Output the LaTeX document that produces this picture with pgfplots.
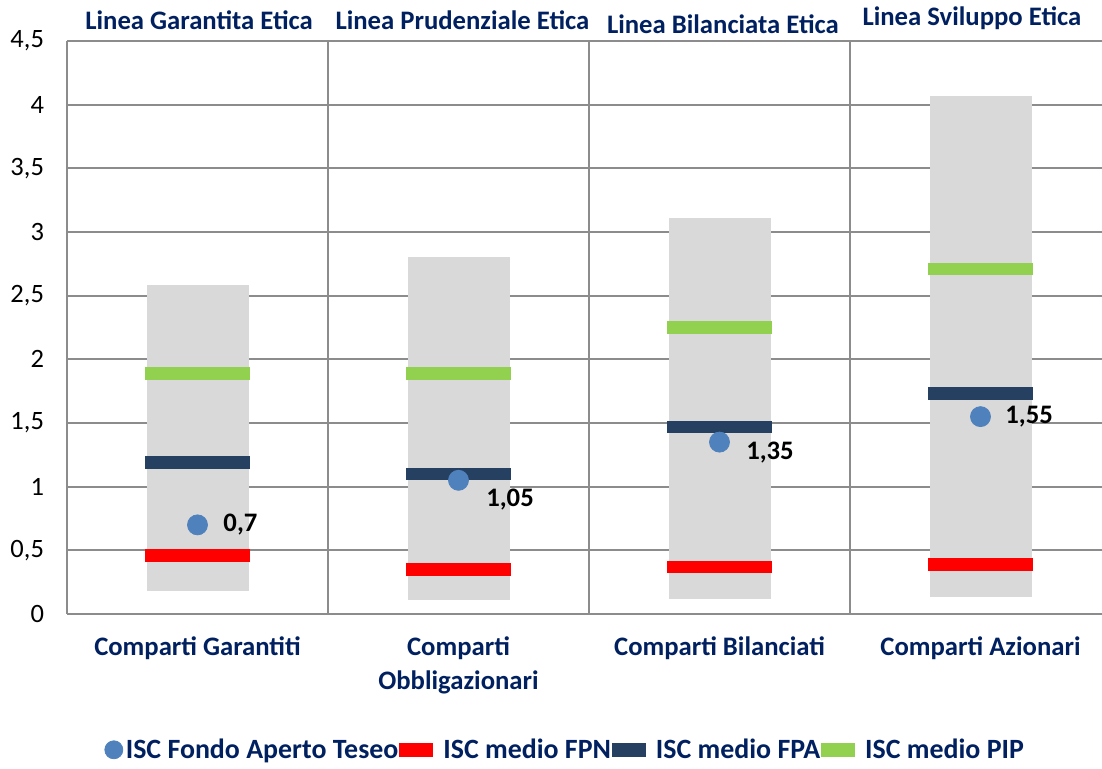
\documentclass[border=0pt]{standalone}
\usepackage{pgfplots}
\pgfplotsset{compat=1.18}
\usepackage{fontspec}
\setmainfont{Carlito}
\definecolor{navy}{HTML}{002060}
\definecolor{tesblue}{HTML}{4F81BD}
\definecolor{fpa}{HTML}{254061}
\definecolor{pip}{HTML}{92D050}
\definecolor{barg}{HTML}{D9D9D9}
\definecolor{gridg}{HTML}{8C8C8C}
\begin{document}
\begin{tikzpicture}
\useasboundingbox (-33.5bp,-77.5bp) rectangle (517.5bp,307bp);
\begin{axis}[
  at={(0,0)}, anchor=south west,
  scale only axis, width=517.5bp, height=286.5bp,
  xmin=0, xmax=3.9655, ymin=0, ymax=4.5,
  axis line style={draw=none},
  xtick={0,1,2,3}, xticklabels={}, xmajorgrids,
  extra x ticks={0.5,1.5,2.5,3.5},
  extra x tick labels={Comparti Garantiti, {Comparti\\Obbligazionari}, Comparti Bilanciati, Comparti Azionari},
  extra x tick style={grid=none},
  ytick={0,0.5,1,1.5,2,2.5,3,3.5,4,4.5},
  yticklabels={0,{0,5},1,{1,5},2,{2,5},3,{3,5},4,{4,5}},
  ymajorgrids,
  major grid style={gridg, line width=1bp},
  tick style={draw=none},
  yticklabel style={font=\fontsize{13.3}{15}\selectfont, xshift=-8bp},
  xticklabel style={font=\bfseries\fontsize{13.4}{17}\selectfont, text=navy, align=center, yshift=-8bp},
  clip=false,
  unbounded coords=jump,
  legend style={at={(0.482,-0.237)}, anchor=center, draw=none, fill=none,
    font=\bfseries\fontsize{14}{16}\selectfont, text=navy,
    nodes={inner xsep=1.5bp},
    /tikz/every even column/.append style={column sep=-4.5bp}},
  legend columns=4,
]
\addlegendimage{only marks, mark=*, mark size=4.5bp, tesblue}
\addlegendentry{ISC Fondo Aperto Teseo}
\addlegendimage{red, line width=7bp}
\addlegendentry{ISC medio FPN}
\addlegendimage{fpa, line width=7bp}
\addlegendentry{ISC medio FPA}
\addlegendimage{pip, line width=7bp}
\addlegendentry{ISC medio PIP}

% range bars
\addplot[barg, line width=51bp, forget plot] coordinates {
 (0.5,0.18) (0.5,2.58) (1,nan)
 (1.5,0.11) (1.5,2.80) (2,nan)
 (2.5,0.12) (2.5,3.11) (3,nan)
 (3.5,0.13) (3.5,4.07)};
% FPN
\addplot[red, line width=6.3bp, forget plot] coordinates {
 (0.3,0.46) (0.7,0.46) (1,nan)
 (1.3,0.35) (1.7,0.35) (2,nan)
 (2.3,0.37) (2.7,0.37) (3,nan)
 (3.3,0.39) (3.7,0.39)};
% FPA
\addplot[fpa, line width=6.3bp, forget plot] coordinates {
 (0.3,1.19) (0.7,1.19) (1,nan)
 (1.3,1.10) (1.7,1.10) (2,nan)
 (2.3,1.47) (2.7,1.47) (3,nan)
 (3.3,1.73) (3.7,1.73)};
% PIP
\addplot[pip, line width=6.3bp, forget plot] coordinates {
 (0.3,1.89) (0.7,1.89) (1,nan)
 (1.3,1.89) (1.7,1.89) (2,nan)
 (2.3,2.25) (2.7,2.25) (3,nan)
 (3.3,2.71) (3.7,2.71)};
% Teseo
\addplot[only marks, mark=*, mark size=5bp, tesblue, forget plot] coordinates {
 (0.5,0.70) (1.5,1.05) (2.5,1.35) (3.5,1.55)};

\begin{scope}[every node/.style={font=\bfseries\fontsize{13.4}{15}\selectfont, inner sep=0pt}]
\node[anchor=west] at (axis cs:0.598,0.70) {0,7};
\node[anchor=west] at (axis cs:1.605,0.895) {1,05};
\node[anchor=west] at (axis cs:2.601,1.265) {1,35};
\node[anchor=west] at (axis cs:3.594,1.548) {1,55};
\node[text=navy] at (axis cs:0.506,4.666) {Linea Garantita Etica};
\node[text=navy] at (axis cs:1.515,4.666) {Linea Prudenziale Etica};
\node[text=navy] at (axis cs:2.513,4.635) {Linea Bilanciata Etica};
\node[text=navy] at (axis cs:3.467,4.68) {Linea Sviluppo Etica};
\end{scope}
\end{axis}
\end{tikzpicture}
\end{document}
